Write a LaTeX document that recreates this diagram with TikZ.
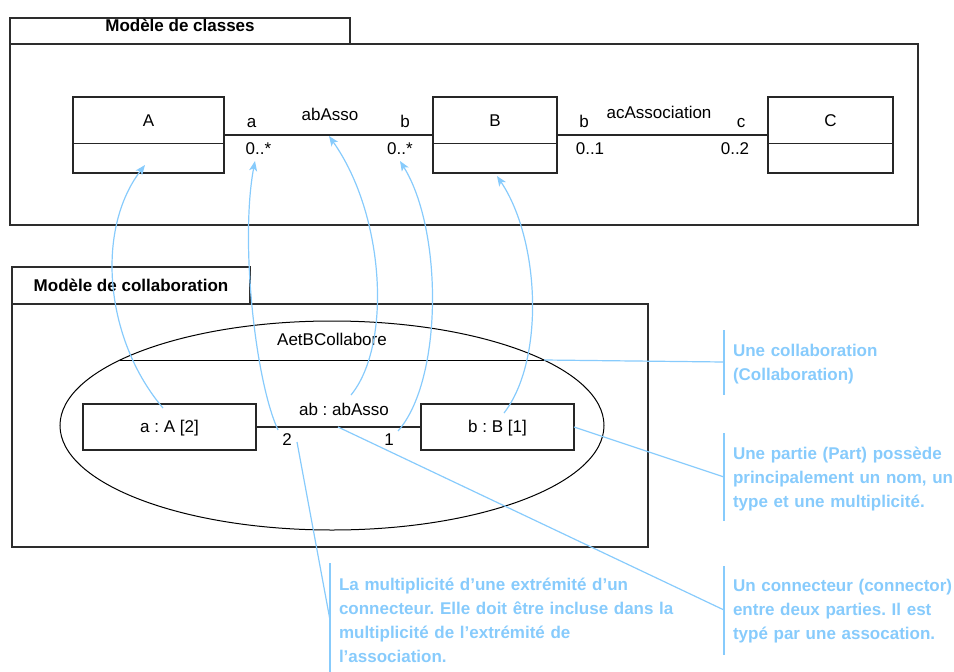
\documentclass[tikz,border=0pt]{standalone}
\usepackage{fontspec}
\setmainfont{Liberation Sans}
\usetikzlibrary{arrows.meta,shapes.geometric}
\definecolor{callblue}{RGB}{135,203,252}
\definecolor{framegray}{RGB}{45,45,45}
\frenchspacing
\tikzset{
  every node/.style={font=\fontsize{17}{20}\selectfont, inner sep=0pt, outer sep=0pt},
  frame/.style={draw=framegray, line width=1.5pt, anchor=north west},
  boxx/.style={draw=black!85, line width=1.3pt, anchor=north west},
  lbl/.style={anchor=base},
  ttl/.style={anchor=base, font=\bfseries\fontsize{17}{20}\selectfont},
  note/.style={anchor=base west, text=callblue, align=left, text width=260pt,
    font=\bfseries\fontsize{17}{24}\selectfont},
  callline/.style={draw=callblue, line width=1.2pt},
  callarrow/.style={draw=callblue, line width=1.2pt, -{Stealth[length=10pt,width=8pt,inset=2.5pt]}},
}
\begin{document}
\begin{tikzpicture}[x=1pt,y=-1pt]
\useasboundingbox (0,0) rectangle (954,672);
% ---------------- class model frame
\node[frame, minimum width=340, minimum height=26] (tab1) at (10,18) {};
\node[frame, minimum width=908, minimum height=181] (frm1) at (10,44) {};
\node[ttl] (t1) at (180,31.5) {Modèle de classes};
% classes
\node[boxx, minimum width=151, minimum height=76] (A) at (73,97) {};
\node[boxx, minimum width=124, minimum height=76] (B) at (433,97) {};
\node[boxx, minimum width=125, minimum height=76] (C) at (768,97) {};
\foreach \n in {A,B,C}{
  \draw[black!85, line width=1.1pt] ([yshift=-8.5pt]\n.west) -- ([yshift=-8.5pt]\n.east);
}
\node[lbl] (Al) at (148.5,126) {A};
\node[lbl] (Bl) at (495,126) {B};
\node[lbl] (Cl) at (830.5,126) {C};
\draw[black!85, line width=1.1pt] (A.east) -- (B.west);
\draw[black!85, line width=1.1pt] (B.east) -- (C.west);
\node[lbl] (ra) at (251.5,127) {a};
\node[lbl] (ab) at (330,120) {abAsso};
\node[lbl] (rb) at (405,127) {b};
\node[lbl] (m1) at (258.5,154) {0..*};
\node[lbl] (m2) at (400,154) {0..*};
\node[lbl] (rb2) at (584,127) {b};
\node[lbl] (ac) at (659,118) {acAssociation};
\node[lbl] (rc) at (741,127) {c};
\node[lbl] (m3) at (590,154) {0..1};
\node[lbl] (m4) at (735,154) {0..2};
% ---------------- collaboration frame
\node[frame, minimum width=238, minimum height=37] (tab2) at (12,267) {};
\node[frame, minimum width=636, minimum height=243] (frm2) at (12,304) {};
\node[ttl] (t2) at (131,291) {Modèle de collaboration};
\node[ellipse, draw=black, line width=1pt, minimum width=544, minimum height=209] (coll) at (332,425.5) {};
\coordinate (dl) at (120,360);
\coordinate (dr) at (544,360);
\draw[black, line width=1pt] (dl) -- (dr);
\node[lbl] (cn) at (332,345) {AetBCollabore};
\node[boxx, minimum width=173, minimum height=46] (pa) at (83,404) {};
\node[boxx, minimum width=153, minimum height=46] (pb) at (421,404) {};
\node[lbl] (pal) at (169.5,432) {a : A [2]};
\node[lbl] (pbl) at (497.5,432) {b : B [1]};
\draw[black!85, line width=1.1pt] (pa.east) -- (pb.west);
\node[lbl] (cnl) at (344,415) {ab : abAsso};
\node[lbl] (n2) at (287,445) {2};
\node[lbl] (n1) at (389,445) {1};
% ---------------- trace arrows
\coordinate (s1) at (163,408);  \coordinate (e1) at (145,165);
\coordinate (s2) at (278,430);  \coordinate (e2) at (255,161);
\coordinate (s3) at (351,395);  \coordinate (e3) at (329,136);
\coordinate (s4) at (398,431);  \coordinate (e4) at (400,161);
\coordinate (s5) at (504,413);  \coordinate (e5) at (497,176);
\draw[callarrow] (s1) .. controls (105,340) and (95,230) .. (e1);
\draw[callarrow] (s2) .. controls (255,380) and (240,240) .. (e2);
\draw[callarrow] (s3) .. controls (392,345) and (385,215) .. (e3);
\draw[callarrow] (s4) .. controls (443,380) and (443,230) .. (e4);
\draw[callarrow] (s5) .. controls (545,360) and (540,240) .. (e5);
% ---------------- callouts
\coordinate (b1t) at (724,330); \coordinate (b1b) at (724,395); \coordinate (c1) at (724,362);
\coordinate (b2t) at (724,433); \coordinate (b2b) at (724,521); \coordinate (c2) at (724,477);
\coordinate (b3t) at (724,566); \coordinate (b3b) at (724,655); \coordinate (c3) at (724,610);
\coordinate (b4t) at (330,563); \coordinate (b4b) at (330,672); \coordinate (c4) at (330,620);
\coordinate (cm) at (338,427);
\coordinate (s6) at (297,442);
\draw[callline] (b1t) -- (b1b);
\draw[callline] (b2t) -- (b2b);
\draw[callline] (b3t) -- (b3b);
\draw[callline] (b4t) -- (b4b);
\draw[callline] (dr) -- (c1);
\draw[callline] (pb.east) -- (c2);
\draw[callline] (cm) -- (c3);
\draw[callline] (s6) -- (c4);
\node[note] (tx1) at (733,356) {Une collaboration\\(Collaboration)};
\node[note] (tx2) at (733,459) {Une partie (Part) possède\\principalement un nom, un\\type et une multiplicité.};
\node[note] (tx3) at (733,591) {Un connecteur (connector)\\entre deux parties. Il est\\typé par une assocation.};
\node[note, text width=360pt] (tx4) at (339,590) {La multiplicité d’une extrémité d’un\\connecteur. Elle doit être incluse dans la\\multiplicité de l’extrémité de\\l’association.};
\end{tikzpicture}
\end{document}
